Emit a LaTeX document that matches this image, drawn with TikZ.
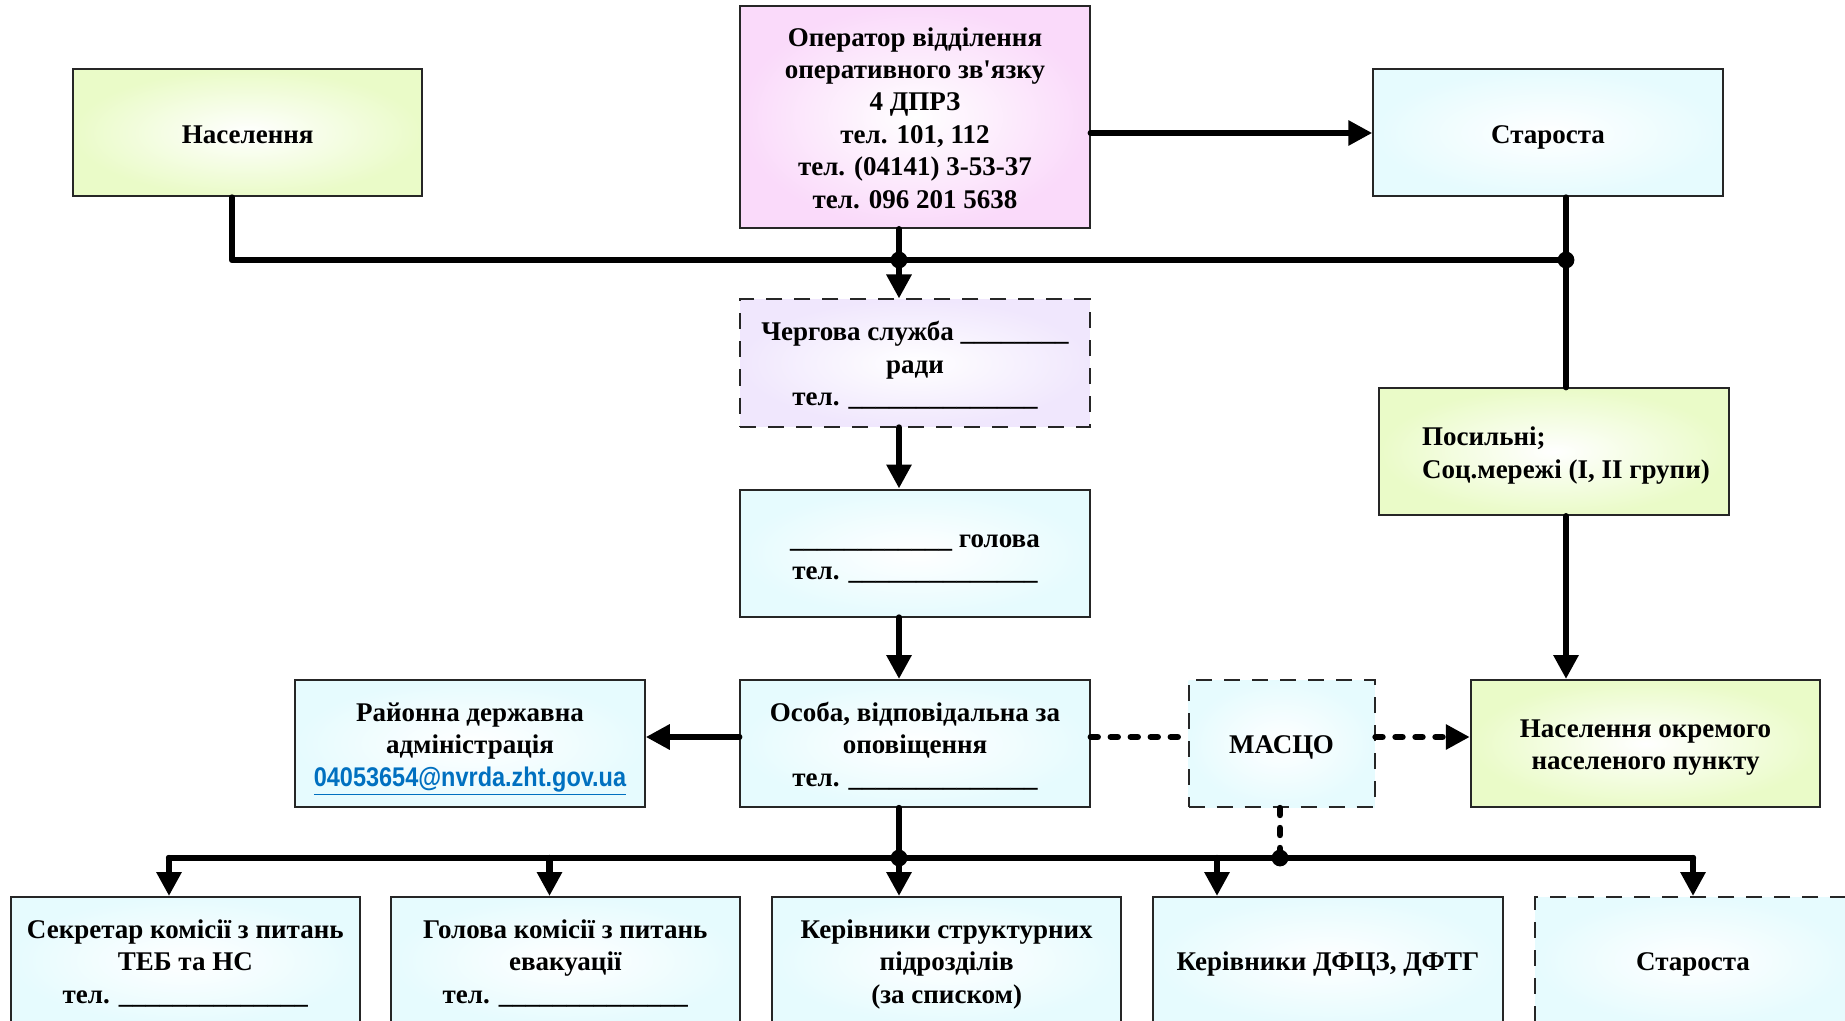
\documentclass[tikz,border=0pt]{standalone}
\usepackage{fontspec}
\setmainfont{Liberation Serif}
\newfontfamily\mailfont{Liberation Sans}[FakeStretch=0.87]
\usetikzlibrary{arrows.meta,calc,shadings}
\definecolor{grn}{RGB}{234,251,200}
\definecolor{pnk}{RGB}{250,218,250}
\definecolor{cyn}{RGB}{230,251,254}
\definecolor{lav}{RGB}{240,231,253}
\definecolor{mailblue}{RGB}{0,112,192}
\newcommand\topstr{\rule{0pt}{15.2pt}}
\newcommand\botstr{\rule[-5pt]{0pt}{5pt}}
\begin{document}
\begin{tikzpicture}[x=0.5pt,y=-0.5pt,
  box/.style={draw=black!85, line width=1pt, minimum width=174.75pt, minimum height=63.5pt,
    inner sep=0pt, align=center, inner color=white,
    font=\bfseries\fontsize{13.5pt}{16.2pt}\selectfont},
  grnbox/.style={box, outer color=grn},
  cynbox/.style={box, outer color=cyn},
  dbox/.style={dash pattern=on 8pt off 6pt},
  conn/.style={line width=3.2pt, line cap=round, line join=round},
  arr/.style={conn, -{Triangle[length=12pt,width=12pt]}},
  dots/.style={line width=3.2pt, line cap=round, dash pattern=on 3.5pt off 6.5pt},
  jdot/.style={fill=black}
]
\useasboundingbox (0,0) rectangle (1845,1021);
\fill[white] (0,0) rectangle (1845,1021);

% top row
\node[grnbox] (nas) at (247.7,133) {\topstr Населення\botstr};
\node[box, outer color=pnk, minimum height=111.2pt] (op) at (915,117)
  {\topstr Оператор відділення\\оперативного зв\textquotesingle язку\\4 ДПРЗ\\тел. 101, 112\\тел. (04141) 3-53-37\\тел. 096 201 5638\botstr};
\node[cynbox] (st) at (1548,133) {\topstr Староста\botstr};

% middle column
\node[box, outer color=lav, dbox] (cherg) at (915,363)
  {\topstr Чергова служба \_\_\_\_\_\_\_\_\\ради\\тел. \_\_\_\_\_\_\_\_\_\_\_\_\_\_\botstr};
\node[cynbox] (golova) at (915,553)
  {\topstr\_\_\_\_\_\_\_\_\_\_\_\_ голова\\тел. \_\_\_\_\_\_\_\_\_\_\_\_\_\_\botstr};
\node[cynbox] (osoba) at (915,743.5)
  {\topstr Особа, відповідальна за\\оповіщення\\тел. \_\_\_\_\_\_\_\_\_\_\_\_\_\_\botstr};
\node[cynbox] (rda) at (470,743.5)
  {\topstr Районна державна\\адміністрація\\{\mailfont\bfseries\color{mailblue}\underline{04053654@nvrda.zht.gov.ua}}\botstr};
\node[cynbox, dbox, minimum width=93pt] (masco) at (1281.5,743.5) {\topstr МАСЦО\botstr};
\node[grnbox] (nasok) at (1645.5,743.5) {\topstr Населення окремого\\населеного пункту\botstr};
\node[grnbox] (pos) at (1553.8,451.7) {};
\node[anchor=west, align=left, inner sep=0pt, font=\bfseries\fontsize{13.5pt}{16.2pt}\selectfont]
  (postext) at ([xshift=21.8pt]pos.west) {\topstr Посильні;\\Соц.мережі (I, II групи)\botstr};

% bottom row
\node[cynbox] (b1) at (185.3,960.5) {\topstr Секретар комісії з питань\\ТЕБ та НС\\тел. \_\_\_\_\_\_\_\_\_\_\_\_\_\_\botstr};
\node[cynbox] (b2) at (565.3,960.5) {\topstr Голова комісії з питань\\евакуації\\тел. \_\_\_\_\_\_\_\_\_\_\_\_\_\_\botstr};
\node[cynbox] (b3) at (946.7,960.5) {\topstr Керівники структурних\\підрозділів\\(за списком)\botstr};
\node[cynbox] (b4) at (1328,960.5) {\topstr Керівники ДФЦЗ, ДФТГ\botstr};
\node[cynbox, dbox, minimum width=158pt] (b5) at (1693,960.5) {\topstr Староста\botstr};

% junctions
\coordinate (jA) at (232,260);
\coordinate (jB) at (899,260);
\coordinate (jC) at (1566,260);
\coordinate (mr) at (1000,737);
\coordinate (kA) at (169,858);
\coordinate (kP) at (549.5,858);
\coordinate (kB) at (899,858);
\coordinate (kQ) at (1217,858);
\coordinate (kC) at (1280,858);
\coordinate (kE) at (1693,858);

% connectors
\draw[conn] (nas.south -| jA) -- (jA) -- (jC);
\draw[conn] (op.south -| jB) -- (jB);
\draw[arr] (jB) -- (cherg.north -| jB);
\draw[conn] (st.south -| jC) -- (pos.north -| jC);
\draw[arr] (pos.south -| jC) -- (nasok.north -| jC);
\draw[arr] (op.east |- st.west) -- (st.west);
\draw[arr] (cherg.south -| jB) -- (golova.north -| jB);
\draw[arr] (golova.south -| jB) -- (osoba.north -| jB);
\draw[arr] (osoba.west |- mr) -- (rda.east |- mr);
\draw[dots] (osoba.east |- mr) -- (masco.west |- mr);
\draw[dots, -{Triangle[length=12pt,width=12pt]}] (masco.east |- mr) -- (nasok.west |- mr);
\draw[dots] (masco.south -| kC) -- (kC);
\draw[conn] (osoba.south -| jB) -- (kB);
\draw[conn] (kA) -- (kE);
\draw[arr] (kA) -- (b1.north -| kA);
\draw[arr] (kP) -- (b2.north -| kP);
\draw[arr] (kB) -- (b3.north -| kB);
\draw[arr] (kQ) -- (b4.north -| kQ);
\draw[arr] (kE) -- (b5.north -| kE);

\fill[jdot] (jB) circle (4.2pt);
\fill[jdot] (jC) circle (4.2pt);
\fill[jdot] (kB) circle (4.2pt);
\fill[jdot] (kC) circle (4.2pt);
\end{tikzpicture}
\end{document}
